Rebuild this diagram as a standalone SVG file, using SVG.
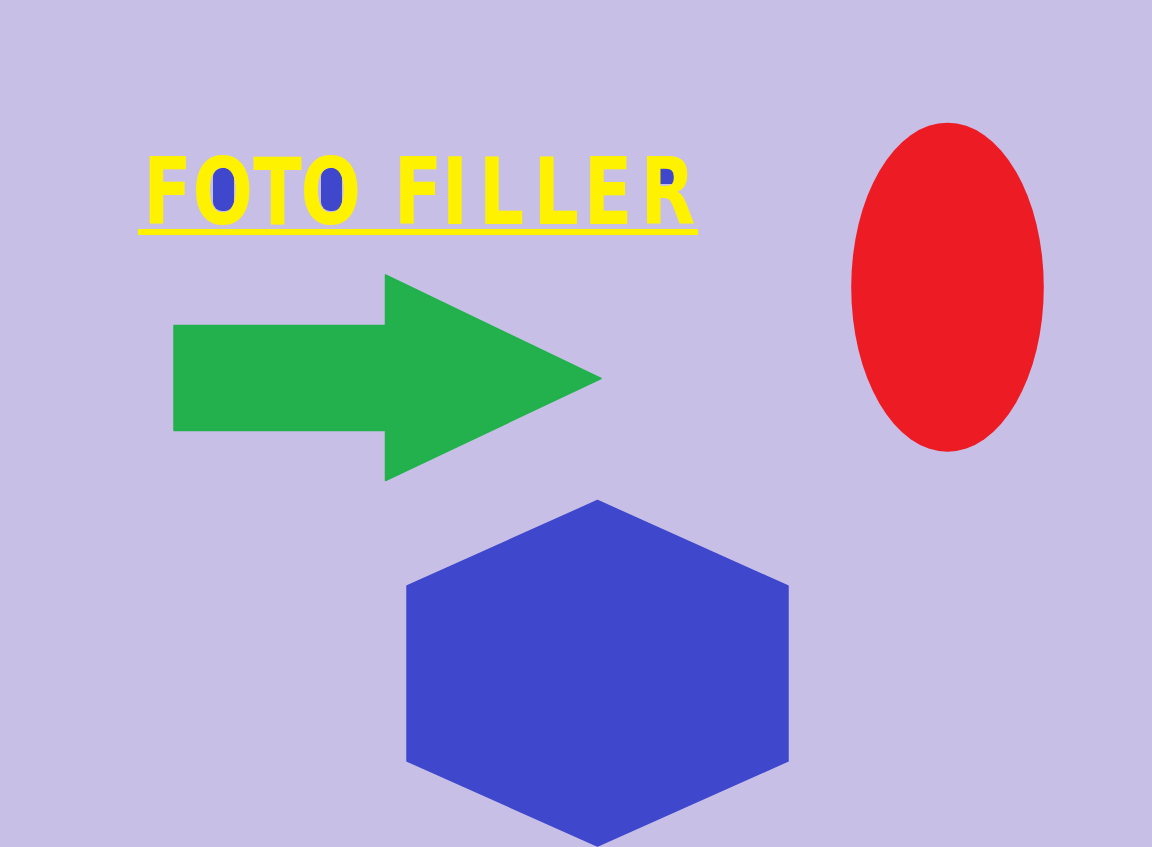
<svg xmlns="http://www.w3.org/2000/svg" width="1152" height="847" viewBox="0 0 1152 847">
<style>
.title{font-family:"DejaVu Sans Condensed","DejaVu Sans",sans-serif;font-weight:bold;font-size:93px;fill:#fff200;text-anchor:middle}
.hole{fill:#3f48cc}
</style>
<rect width="1152" height="847" fill="#c8bfe7"/>
<g id="title">
<rect class="hole" x="213" y="168" width="21" height="43" rx="9"/>
<rect class="hole" x="321" y="168" width="21" height="43" rx="9"/>
<rect class="hole" x="655" y="168" width="20" height="16" rx="3"/>
<text class="title" transform="scale(0.85,1)" x="197.1 261.9 326.4 389.1 441.2 491.8 535.3 590 654.4 715.4 785.8" y="224">FOTO FILLER</text>
<rect x="138" y="229" width="560" height="6" fill="#fff200"/>
</g>
<g id="arrow">
<path d="M174,325.5 L385.5,325.5 L385.5,275 L601,378.5 L385.5,480.5 L385.5,430.5 L174,430.5 Z" fill="#22b14c" stroke="#22b14c" stroke-width="1.5" stroke-linejoin="round"/>
</g>
<g id="ellipse">
<ellipse cx="947.5" cy="287.2" rx="96.3" ry="164.5" fill="#ed1c24"/>
</g>
<g id="hexagon">
<path d="M597.5,500.5 L788,586 L788,761 L597.5,846 L407,761 L407,586 Z" fill="#3f48cc" stroke="#3f48cc" stroke-width="1.5" stroke-linejoin="round"/>
</g>
</svg>
